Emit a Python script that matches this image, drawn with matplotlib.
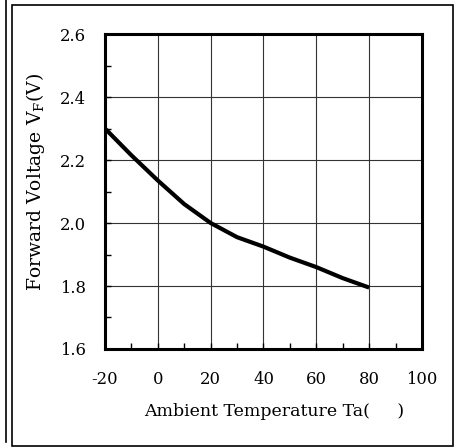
import numpy as np
import matplotlib
matplotlib.use("Agg")
import matplotlib.pyplot as plt
from matplotlib.lines import Line2D
from matplotlib.patches import Rectangle

# values
temps = [-20, -10, 0, 10, 20, 30, 35, 40, 50, 60, 70, 80]
vf = [2.30, 2.215, 2.135, 2.06, 2.0, 1.955, 1.94, 1.925, 1.89, 1.86, 1.825, 1.795]

x_ticks = [-20, 0, 20, 40, 60, 80, 100]
y_ticks = [1.6, 1.8, 2.0, 2.2, 2.4, 2.6]

plt.rcParams['font.family'] = ['DejaVu Serif']
plt.rcParams['mathtext.fontset'] = 'dejavuserif'

fig = plt.figure(figsize=(4.6, 4.48), dpi=100)
ax = fig.add_axes([0.2283, 0.221, 0.689, 0.703])

ax.plot(temps, vf, color="black", lw=3, solid_capstyle="butt", zorder=3)

ax.set_xlim(-20, 100)
ax.set_ylim(1.6, 2.6)
ax.set_xticks(x_ticks)
ax.set_yticks(y_ticks)
ax.set_xticklabels([str(t) for t in x_ticks])
ax.set_yticklabels([f"{v:.1f}" for v in y_ticks])
ax.set_xticks(np.arange(-20, 101, 10), minor=True)
ax.set_yticks(np.arange(1.6, 2.61, 0.1), minor=True)
ax.grid(True, which="major", color="#333333", lw=0.8)
ax.tick_params(which="both", direction="in", length=4, width=1, labelsize=11.8,
               top=False, right=False)
ax.tick_params(axis="x", pad=16)
ax.tick_params(axis="y", pad=14)
for s in ax.spines.values():
    s.set_linewidth(2.2)

ax.set_xlabel("Ambient Temperature Ta(     )", fontsize=12.5, labelpad=11)
ax.set_ylabel(r"Forward Voltage V$_\mathrm{F}$(V)", fontsize=13.5, labelpad=9)
ax.xaxis.label.set_x(0.535)
ax.yaxis.label.set_y(0.53)

# outer frame and neighbouring panel edge
fig.add_artist(Rectangle((12 / 460, 2 / 448), 441 / 460, 441 / 448, fill=False,
                         lw=1.2, ec="black", transform=fig.transFigure))
fig.add_artist(Line2D([6 / 460, 6 / 460], [6 / 448, 1], lw=1.2, color="black",
                      transform=fig.transFigure))

fig.savefig("out.png", dpi=100)
